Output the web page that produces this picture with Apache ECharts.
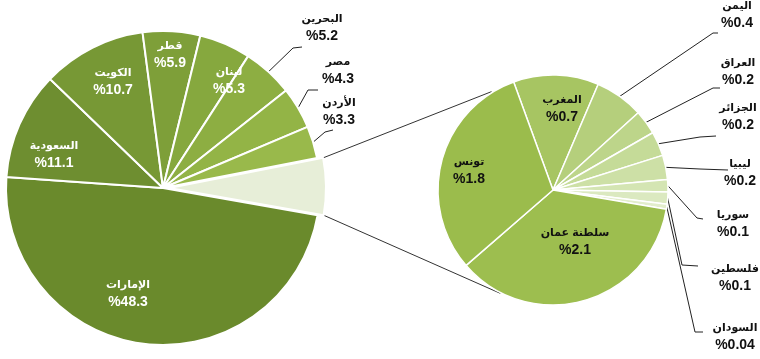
<!DOCTYPE html>
<html><head><meta charset="utf-8">
<script src="https://cdn.jsdelivr.net/npm/echarts@6/dist/echarts.min.js"></script>
<style>html,body{margin:0;padding:0;background:#fff}#c{width:760px;height:359px}</style>
</head><body><div id="c"></div>
<script>
// ---- data ----
const subNames = ['المغرب','اليمن','العراق','الجزائر','ليبيا','سوريا','فلسطين','السودان','سلطنة عمان','تونس'];
const subValues = [0.7,0.4,0.2,0.2,0.2,0.1,0.1,0.04,2.1,1.8];
const mainNames = ['الإمارات','السعودية','الكويت','قطر','لبنان','البحرين','مصر','الأردن','أخرى'];
const mainValues = [48.3,11.1,10.7,5.9,5.3,5.2,4.3,3.3,0.7+0.4+0.2+0.2+0.2+0.1+0.1+0.04+2.1+1.8];

// ---- styles / layout ----
const mainColors = ['#6a8a2c','#6e8e30','#779835','#7e9f39','#86a83e','#8dae42','#93b446','#99b94b','#e7eed8'];
const subColors = ['#a7c562','#b5cf7c','#bdd58a','#c5db98','#cde0a6','#d4e5b3','#dbe9c0','#e2edcb','#9dbe4f','#9bbc4c'];
const L = {cx:163, cy:188, r:157, start:350};
const R = {cx:553, cy:190, r:115, start:110};
const mainInside = [0,1,2,3,4];
const subInside = [0,8,9];
const mainLabelPos = {0:[128,294],1:[54,155],2:[113,82],3:[170,55],4:[229,81],5:[322,28],6:[338,71],7:[339,112]};
const mainLineBend = {5:[[293,48],[302,47]],6:[[308,90],[318,90]],7:[[325,132],[333,130]]};
const subLabelPos = {0:[562,109],8:[575,242],9:[469,171],1:[737,15],2:[738,72],3:[738,117],4:[740,173],5:[733,224],6:[735,278],7:[735,337]};
const subLineBend = {1:[[713,33],[718,33]],2:[[713,88],[720,88]],3:[[700,137],[716,136]],4:[[700,169],[728,170]],5:[[697,218],[703,219]],6:[[682,265],[698,266]],7:[[695,332],[703,332]]};
const FONT = '"Liberation Sans","DejaVu Sans",Arial,sans-serif';

function angles(vals, start){
  const tot = vals.reduce((a,b)=>a+b,0); let a = start; const out=[];
  vals.forEach(v=>{const s=v/tot*360; out.push([a, a-s]); a-=s;}); return out;
}
function pt(g, ang, r){ const t=ang*Math.PI/180; return [g.cx + r*Math.cos(t), g.cy - r*Math.sin(t)]; }

const mainAng = angles(mainValues, L.start);
const subAng = angles(subValues, R.start);

function rich(color){
  return {
    n:{fontFamily:FONT,fontSize:11,fontWeight:'bold',color:color,lineHeight:17,align:'center'},
    v:{fontFamily:FONT,fontSize:14,fontWeight:'bold',color:color,lineHeight:18,align:'center'}
  };
}
const mainData = mainNames.map((n,i)=>{
  const inside = mainInside.includes(i), last = i===mainNames.length-1;
  return {name:n, value:mainValues[i], selected:last,
    itemStyle:{color:mainColors[i]},
    label:{show:!last, position: inside?'inside':'outside', rich: rich(inside?'#ffffff':'#111111')},
    labelLine:{show:!inside && !last, lineStyle:{color:'#222',width:1}}};
});
const subData = subNames.map((n,i)=>{
  const inside = subInside.includes(i);
  return {name:n, value:subValues[i],
    itemStyle:{color:subColors[i]},
    label:{show:true, position: inside?'inside':'outside', rich: rich('#111111')},
    labelLine:{show:!inside, lineStyle:{color:'#222',width:1}}};
});

const fmt = p => '{n|' + p.name + '}\n{v|%' + p.value + '}';

function layoutFor(g, ang, pos, bend){
  return function(p){
    const i = p.dataIndex; const q = pos[i]; if(!q) return {};
    const res = {x:q[0], y:q[1], align:'center', verticalAlign:'middle'};
    if (bend[i]) {
      const mid = (ang[i][0]+ang[i][1])/2;
      res.labelLinePoints = [pt(g, mid, g.r), bend[i][0], bend[i][1]];
    }
    return res;
  };
}

// connectors between pies
const oth = mainAng[mainAng.length-1];
const othMid = (oth[0]+oth[1])/2;
const off = 6;
const offV = [off*Math.cos(othMid*Math.PI/180), -off*Math.sin(othMid*Math.PI/180)];
const topA = pt(L, oth[0], L.r); topA[0]+=offV[0]; topA[1]+=offV[1];
const botA = pt(L, oth[1], L.r); botA[0]+=offV[0]; botA[1]+=offV[1];
const topB = pt(R, 122, R.r+1), botB = pt(R, 243, R.r+1);

const chart = echarts.init(document.getElementById('c'), null, {renderer:'canvas'});
chart.setOption({
  backgroundColor:'#ffffff',
  animation:false,
  graphic:[
    {type:'line', shape:{x1:topA[0],y1:topA[1],x2:topB[0],y2:topB[1]}, style:{stroke:'#333',lineWidth:1}, z:0},
    {type:'line', shape:{x1:botA[0],y1:botA[1],x2:botB[0],y2:botB[1]}, style:{stroke:'#333',lineWidth:1}, z:0}
  ],
  series:[
    {type:'pie', center:[L.cx,L.cy], radius:L.r, startAngle:L.start, clockwise:true,
     selectedMode:'single', selectedOffset:off, avoidLabelOverlap:false,
     itemStyle:{borderColor:'#ffffff', borderWidth:2},
     label:{formatter:fmt}, emphasis:{disabled:true},
     labelLayout: layoutFor(L, mainAng, mainLabelPos, mainLineBend),
     data: mainData},
    {type:'pie', center:[R.cx,R.cy], radius:R.r, startAngle:R.start, clockwise:true,
     avoidLabelOverlap:false,
     itemStyle:{borderColor:'#ffffff', borderWidth:1.5},
     label:{formatter:fmt}, emphasis:{disabled:true},
     labelLayout: layoutFor(R, subAng, subLabelPos, subLineBend),
     data: subData}
  ]
});
</script></body></html>
